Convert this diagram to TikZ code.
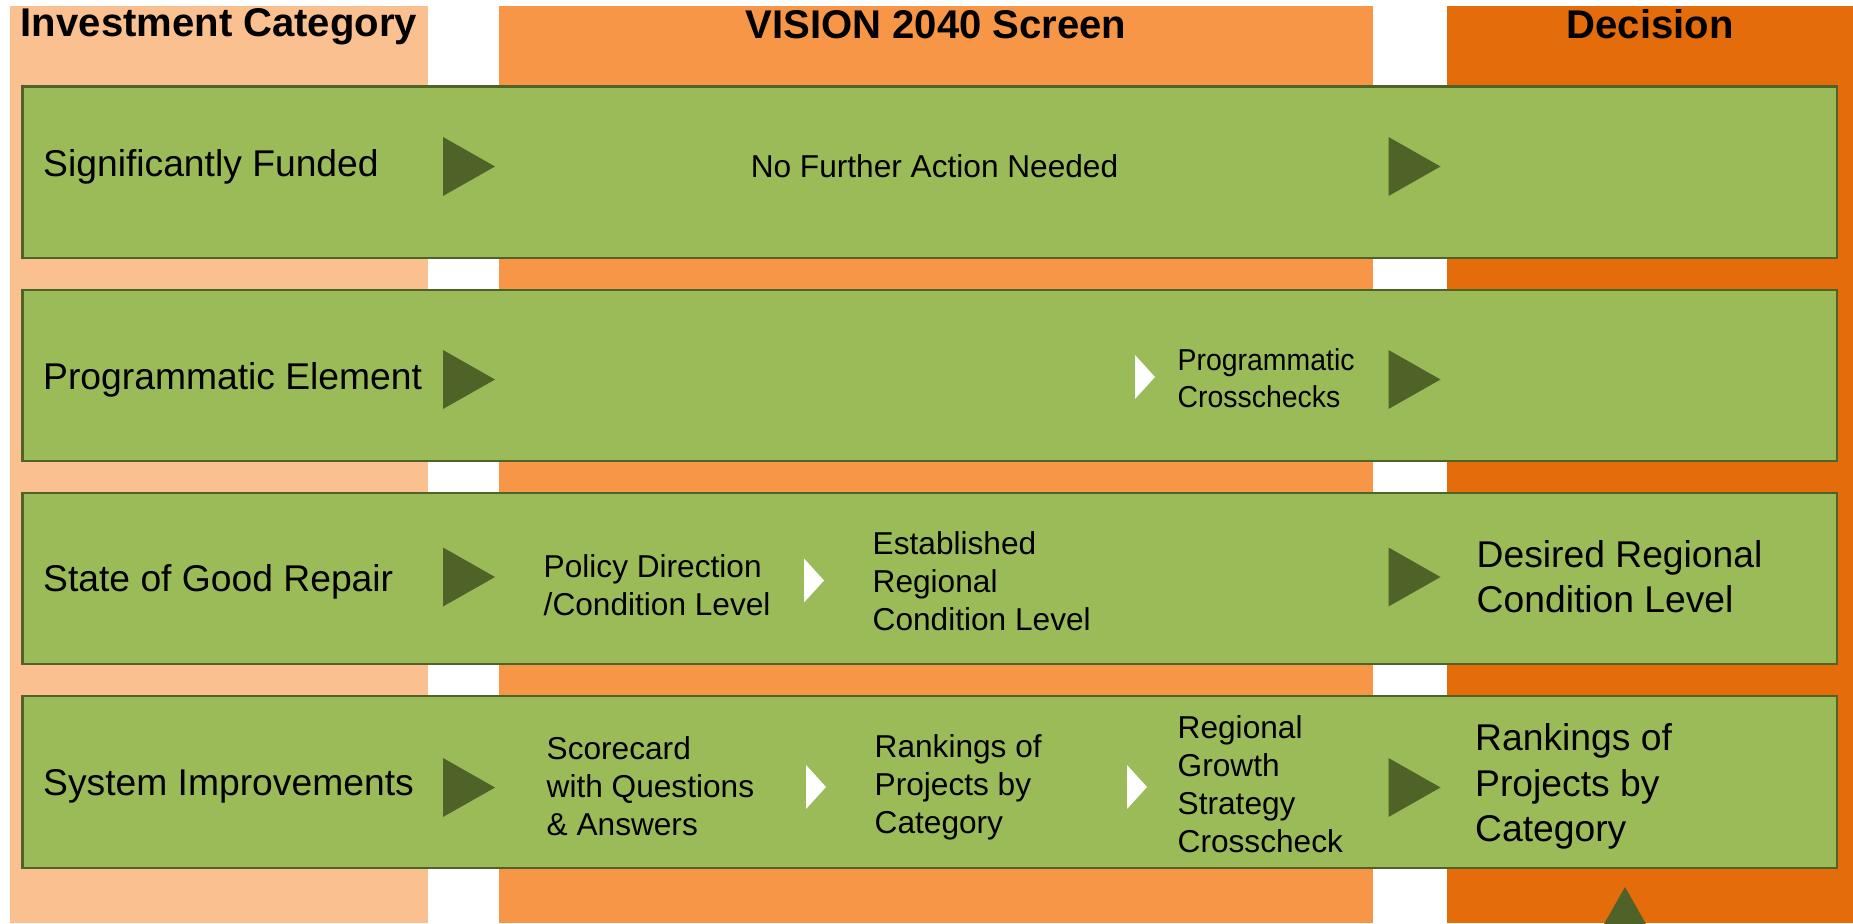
\documentclass[tikz,border=0pt]{standalone}
\usepackage{fontspec}
\setmainfont{Liberation Sans}
\newfontfamily\narrowfont[FakeStretch=0.94]{Liberation Sans}
\definecolor{catcol}{HTML}{FAC090}
\definecolor{screencol}{HTML}{F79646}
\definecolor{decisioncol}{HTML}{E46C0A}
\definecolor{rowgreen}{HTML}{9BBB59}
\definecolor{rowline}{HTML}{4F6228}

\begin{document}
\begin{tikzpicture}[
	header/.style={anchor=base, inner sep=0pt, font=\fontsize{11.4}{13.7}\selectfont\bfseries},
	rowlabel/.style={anchor=base west, inner sep=0pt, font=\fontsize{10.6}{12.8}\selectfont},
	midtext/.style={anchor=west, align=left, inner sep=0pt, font=\fontsize{9}{10.8}\selectfont},
	outtext/.style={anchor=west, align=left, inner sep=0pt, font=\fontsize{10.6}{12.9}\selectfont},
	greenrow/.style={draw=rowline, fill=rowgreen, line width=0.6pt, inner sep=0pt,
		minimum width=18.145cm, minimum height=1.715cm},
	bigtri/.pic={\fill[rowline] (-0.26,-0.295) -- (0.26,0) -- (-0.26,0.295) -- cycle;},
	whitetri/.pic={\fill[white] (-0.1,-0.22) -- (0.1,0) -- (-0.1,0.22) -- cycle;}]
	\useasboundingbox (0,0) rectangle (18.53,9.23);
	\clip (0,0) rectangle (18.53,9.23);
	% columns
	\fill[catcol] (0.095,0) rectangle (4.28,9.17);
	\fill[screencol] (4.99,0) rectangle (13.73,9.17);
	\fill[decisioncol] (14.47,0) rectangle (18.53,9.17);
	\node[header] (hcat) at (2.19,8.86) {Investment Category};
	\node[header] (hscreen) at (9.36,8.84) {VISION 2040 Screen};
	\node[header] (hdec) at (16.50,8.84) {Decision};
	% rows
	\foreach \i in {1,...,4}
		\node[greenrow] (row\i) at (9.2975,{7.5075-2.032*(\i-1)}) {};
	\foreach \y [count=\i] in {7.565,5.435,3.46,1.355} {
		\pic (inarrow\i) at (4.69,\y) {bigtri};
		\pic (outarrow\i) at (14.145,\y) {bigtri};
	}
	\node[rowlabel] (cat1) at (0.425,7.46) {Significantly Funded};
	\node[rowlabel] (cat2) at (0.425,5.33) {Programmatic Element};
	\node[rowlabel] (cat3) at (0.425,3.315) {State of Good Repair};
	\node[rowlabel] (cat4) at (0.425,1.28) {System Improvements};
	% row 1
	\node[anchor=base, inner sep=0pt, font=\fontsize{9}{10.8}\selectfont] (noaction) at (9.345,7.45) {No Further Action Needed};
	% row 2
	\pic (step2a) at (11.45,5.46) {whitetri};
	\node[anchor=west, align=left, inner sep=0pt, font=\narrowfont\fontsize{8.6}{10.5}\selectfont] (progcheck) at (11.77,5.445) {Programmatic\\Crosschecks};
	% row 3
	\node[midtext] (policy) at (5.43,3.38) {Policy Direction\\/Condition Level};
	\pic (step3a) at (8.14,3.425) {whitetri};
	\node[midtext] (established) at (8.72,3.415) {Established\\Regional\\Condition Level};
	\node[outtext] (desired) at (14.76,3.46) {Desired Regional\\Condition Level};
	% row 4
	\node[midtext] (scorecard) at (5.46,1.37) {Scorecard\\with Questions\\\& Answers};
	\pic (step4a) at (8.16,1.36) {whitetri};
	\node[midtext] (rankings) at (8.74,1.36) {Rankings of\\Projects by\\Category};
	\pic (step4b) at (11.37,1.36) {whitetri};
	\node[midtext] (growth) at (11.77,1.39) {Regional\\Growth\\Strategy\\Crosscheck};
	\node[outtext] (finalrank) at (14.745,1.365) {Rankings of\\Projects by\\Category};
	\pic[rotate=90] (uparrow) at (16.25,0.10) {bigtri};
\end{tikzpicture}
\end{document}
